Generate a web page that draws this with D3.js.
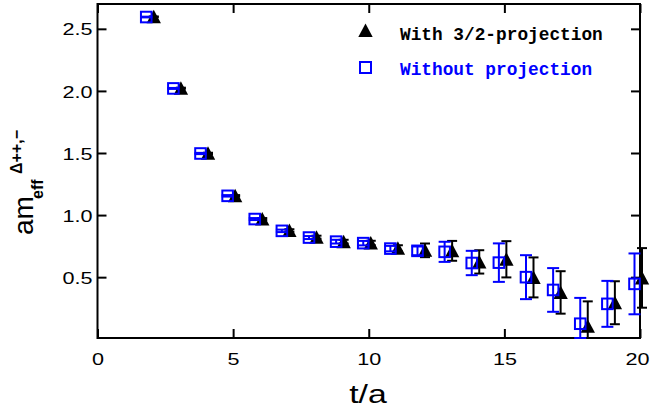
<!DOCTYPE html>
<html>
<head>
<meta charset="utf-8">
<script src="https://cdn.jsdelivr.net/npm/d3@7"></script>
<style>
  html, body { margin: 0; padding: 0; background: #fff; }
  svg { display: block; }
</style>
</head>
<body>
<svg id="chart" width="651" height="415"></svg>
<script>
// Effective mass of the Delta++ / Delta- channel versus Euclidean time
const tValues = [2, 3, 4, 5, 6, 7, 8, 9, 10, 11, 12, 13, 14, 15, 16, 17, 18, 19, 20];

// with the spin-3/2 projection (filled triangles)
const projMass = [2.597, 2.022, 1.497, 1.155, 0.968, 0.876, 0.822, 0.786, 0.775, 0.732, 0.716,
                  0.712, 0.623, 0.644, 0.498, 0.377, 0.105, 0.294, 0.494];
const projErr  = [0.003, 0.004, 0.005, 0.006, 0.008, 0.010, 0.012, 0.015, 0.018, 0.025, 0.055,
                  0.080, 0.094, 0.146, 0.161, 0.171, 0.200, 0.173, 0.240];

// without projection (open squares)
const rawMass  = [2.595, 2.020, 1.496, 1.155, 0.968, 0.873, 0.819, 0.786, 0.774, 0.730, 0.712,
                  0.704, 0.614, 0.617, 0.500, 0.397, 0.125, 0.285, 0.446];
const rawErr   = [0.003, 0.004, 0.005, 0.006, 0.008, 0.010, 0.012, 0.015, 0.018, 0.022, 0.035,
                  0.081, 0.098, 0.155, 0.177, 0.176, 0.208, 0.185, 0.245];

const xTicks = [0, 5, 10, 15, 20];
const yTicks = [0.5, 1.0, 1.5, 2.0, 2.5];
const legendLabels = ["With 3/2-projection", "Without projection"];

const BLUE = "#0000ff";
const svg = d3.select("#chart");

const plot = { left: 97.5, right: 640, top: 4, bottom: 338 };
const x = d3.scaleLinear().domain([0, 20]).range([plot.left, plot.right]);
const y = d3.scaleLinear().domain([0.01, 2.7]).range([plot.bottom, plot.top]);

const STRETCH = 1.27;  // wide glyphs of the tick labels
const tickFont = "'Liberation Sans', Arial, sans-serif";

// axes: ticks point into the frame on all four sides
function styleAxis(g) {
  g.select(".domain").remove();
  g.selectAll(".tick line").attr("stroke", "#000").attr("stroke-width", 2);
}

const gBottom = svg.append("g").attr("transform", `translate(0,${plot.bottom})`)
  .call(d3.axisBottom(x).tickValues(xTicks).tickSize(-9).tickFormat(d3.format("d")))
  .call(styleAxis);
gBottom.selectAll(".tick text")
  .attr("font-family", tickFont).attr("font-size", 17).attr("fill", "#000")
  .attr("y", 0).attr("dy", null)
  .attr("transform", d => `translate(${d === 20 ? -3 : 0},27) scale(${STRETCH},1)`);

svg.append("g").attr("transform", `translate(0,${plot.top})`)
  .call(d3.axisTop(x).tickValues(xTicks).tickSize(-9).tickFormat(""))
  .call(styleAxis);

const gLeft = svg.append("g").attr("transform", `translate(${plot.left},0)`)
  .call(d3.axisLeft(y).tickValues(yTicks).tickSize(-9).tickFormat(d3.format(".1f")))
  .call(styleAxis);
gLeft.selectAll(".tick text")
  .attr("font-family", tickFont).attr("font-size", 17).attr("fill", "#000")
  .attr("x", 0).attr("dy", "0.36em")
  .attr("transform", `translate(-5,0) scale(${STRETCH},1)`);

svg.append("g").attr("transform", `translate(${plot.right},0)`)
  .call(d3.axisRight(y).tickValues(yTicks).tickSize(-9).tickFormat(""))
  .call(styleAxis);

// frame
svg.append("rect")
  .attr("x", plot.left).attr("y", plot.top)
  .attr("width", plot.right - plot.left).attr("height", plot.bottom - plot.top)
  .attr("fill", "none").attr("stroke", "#000").attr("stroke-width", 2);

// series records
const proj = tValues.map((t, i) => ({ t, m: projMass[i], e: projErr[i] }));
const raw  = tValues.map((t, i) => ({ t, m: rawMass[i],  e: rawErr[i] }));

const yLow = d => y(Math.max(d.m - d.e, y.domain()[0]));
const yHigh = d => y(Math.min(d.m + d.e, y.domain()[1]));

function errorBars(data, dx, color, cap) {
  const g = svg.append("g").attr("stroke", color).attr("stroke-width", 2).attr("fill", "none");
  const bars = g.selectAll("g").data(data).join("g");
  bars.append("line")
    .attr("x1", d => x(d.t) + dx).attr("x2", d => x(d.t) + dx)
    .attr("y1", yLow).attr("y2", yHigh);
  bars.append("line")
    .attr("x1", d => x(d.t) + dx - cap).attr("x2", d => x(d.t) + dx + cap)
    .attr("y1", yLow).attr("y2", yLow);
  bars.append("line")
    .attr("x1", d => x(d.t) + dx - cap).attr("x2", d => x(d.t) + dx + cap)
    .attr("y1", yHigh).attr("y2", yHigh);
}

function trianglePath(cx, cy) {
  const p = d3.path();
  p.moveTo(cx, cy - 7);
  p.lineTo(cx + 7.2, cy + 6.5);
  p.lineTo(cx - 7.2, cy + 6.5);
  p.closePath();
  return p.toString();
}

const TRI_DX = 2, SQ_DX = -5.5;

// filled triangles with black error bars
errorBars(proj, TRI_DX, "#000", 5);
svg.append("g").selectAll("path").data(proj).join("path")
  .attr("d", d => trianglePath(x(d.t) + TRI_DX, y(d.m)))
  .attr("fill", "#000");

// open squares with blue error bars, drawn on top
errorBars(raw, SQ_DX, BLUE, 6);
svg.append("g").selectAll("rect").data(raw).join("rect")
  .attr("x", d => x(d.t) + SQ_DX - 5.3).attr("y", d => y(d.m) - 5.3)
  .attr("width", 10.6).attr("height", 10.6)
  .attr("fill", "none").attr("stroke", BLUE).attr("stroke-width", 2);

// legend
const legendFont = "'Liberation Mono', 'Courier New', monospace";
svg.append("path").attr("d", trianglePath(365.5, 30.5)).attr("fill", "#000");
svg.append("text").attr("x", 400).attr("y", 40)
  .attr("font-family", legendFont).attr("font-weight", "bold").attr("font-size", 17.8)
  .attr("fill", "#000").text(legendLabels[0]);
svg.append("rect").attr("x", 360).attr("y", 62).attr("width", 11).attr("height", 11)
  .attr("fill", "none").attr("stroke", BLUE).attr("stroke-width", 2);
svg.append("text").attr("x", 400).attr("y", 75)
  .attr("font-family", legendFont).attr("font-weight", "bold").attr("font-size", 17.8)
  .attr("fill", BLUE).text(legendLabels[1]);

// axis titles
svg.append("text")
  .attr("transform", `translate(368,403) scale(1.3,1)`)
  .attr("text-anchor", "middle")
  .attr("font-family", tickFont).attr("font-size", 26).attr("fill", "#000")
  .text("t/a");

const yTitle = svg.append("g").attr("transform", "rotate(-90)")
  .attr("font-family", tickFont).attr("fill", "#000");
yTitle.append("text").attr("x", -235).attr("y", 33).attr("font-size", 28).text("am");
yTitle.append("text").attr("x", -199).attr("y", 43).attr("font-size", 16)
  .attr("font-weight", "bold").text("eff");
yTitle.append("text").attr("x", -174).attr("y", 22).attr("font-size", 16)
  .attr("font-weight", "bold").text("\u0394++,\u2212");
</script>
</body>
</html>
